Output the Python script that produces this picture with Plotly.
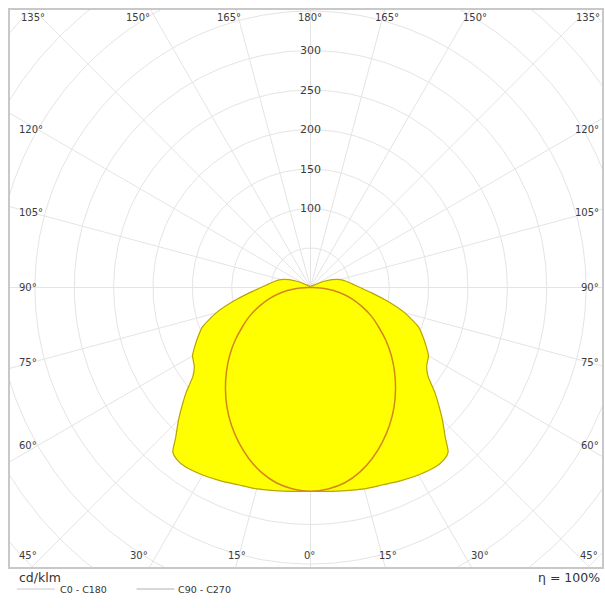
import numpy as np
import plotly.graph_objects as go

# ---- data (cd/klm) ----
gamma_c0 = [0, 5, 10, 15, 20, 25, 30, 35, 38, 40, 42, 45, 48, 50, 53, 56, 60, 63, 66, 70,
            75, 80, 85, 90, 95, 100, 105, 110, 115, 120, 130, 150, 180]
I_c0 = [258, 259, 261, 264, 266, 270, 274, 277, 276, 272, 256, 237, 218, 206, 187, 178, 173,
        165, 157, 146, 124, 99, 78, 63, 53, 46, 39, 29, 18, 9, 4, 2, 0]

gamma_c90 = [0, 5, 10, 15, 20, 25, 30, 35, 40, 45, 50, 55, 60, 65, 70, 75, 80, 85, 90, 180]
I_c90 = [258, 256, 251, 242, 230, 216, 201, 185, 168, 151, 134, 117, 100, 85, 69, 54, 38, 21, 3, 0]

ring_values = [50, 100, 150, 200, 250, 300, 350, 400, 450, 500]
ring_labels = [100, 150, 200, 250, 300]
spoke_angles = list(range(0, 360, 15))

legend_names = ["C0 - C180", "C90 - C270"]
unit_text = "cd/klm"
eta_text = "η = 100%"

# ---- layout geometry (pixels) ----
W, H = 605, 608
L, R, T, B = 10, 604, 10, 567
CX, CY = 311.5, 287.5
S = 0.79  # px per cd/klm

xr = [-(CX - L) / S, (R - CX) / S]
yr = [-(B - CY) / S, (CY - T) / S]


def curve_xy(g, I):
    g = np.radians(np.array(g, float))
    I = np.array(I, float)
    xr_ = I * np.sin(g)
    yr_ = -I * np.cos(g)
    x = np.concatenate([xr_, -xr_[::-1]])
    y = np.concatenate([yr_, yr_[::-1]])
    return x, y


def px(xp):
    return (xp - L) / (R - L)


def py(yp):
    return (B - yp) / (B - T)


fig = go.Figure()

grid = "#E4E4E4"
# rings
t = np.linspace(0, 2 * np.pi, 361)
gx, gy = [], []
for r in ring_values:
    gx += list(r * np.cos(t)) + [None]
    gy += list(r * np.sin(t)) + [None]
fig.add_trace(go.Scatter(x=gx, y=gy, mode="lines", line=dict(color=grid, width=1),
                         hoverinfo="skip", showlegend=False))
# spokes
sx, sy = [], []
for a in spoke_angles:
    ar = np.radians(a)
    sx += [0, 800 * np.sin(ar), None]
    sy += [0, -800 * np.cos(ar), None]
fig.add_trace(go.Scatter(x=sx, y=sy, mode="lines", line=dict(color=grid, width=1),
                         hoverinfo="skip", showlegend=False))

# C0-C180
x0, y0 = curve_xy(gamma_c0, I_c0)
fig.add_trace(go.Scatter(x=x0, y=y0, mode="lines", fill="toself", fillcolor="#FFFF00",
                         line=dict(color="#B9A400", width=1.2, shape="spline", smoothing=0.6),
                         name=legend_names[0], showlegend=False))
# C90-C270
x9, y9 = curve_xy(gamma_c90, I_c90)
fig.add_trace(go.Scatter(x=x9, y=y9, mode="lines", fill="toself", fillcolor="#FFFF00",
                         line=dict(color="#D4861C", width=1.5, shape="spline", smoothing=0.8),
                         name=legend_names[1], showlegend=False))

font = "DejaVu Sans"
tc = "#3c3c3c"
ann = []
for v in ring_labels:
    ann.append(dict(x=0, y=v, xref="x", yref="y", text=str(v), showarrow=False,
                    font=dict(family=font, size=11, color=tc), xanchor="center", yanchor="middle"))

top = [("135°", 33), ("150°", 138), ("165°", 230), ("180°", 311), ("165°", 388), ("150°", 477), ("135°", 590)]
for s, xc in top:
    ann.append(dict(x=px(xc), y=py(17), xref="paper", yref="paper", text=s, showarrow=False,
                    font=dict(family=font, size=10, color=tc), xanchor="center", yanchor="middle"))
bot = [("45°", 28), ("30°", 139), ("15°", 238), ("0°", 311), ("15°", 389), ("30°", 482), ("45°", 591)]
for s, xc in bot:
    ann.append(dict(x=px(xc), y=py(555), xref="paper", yref="paper", text=s, showarrow=False,
                    font=dict(family=font, size=10, color=tc), xanchor="center", yanchor="middle"))
side = [("120°", 129), ("105°", 213), ("90°", 287), ("75°", 362), ("60°", 445)]
for s, yc in side:
    ann.append(dict(x=px(17), y=py(yc), xref="paper", yref="paper", text=s, showarrow=False,
                    font=dict(family=font, size=10, color=tc), xanchor="left", yanchor="middle"))
    ann.append(dict(x=px(603), y=py(yc), xref="paper", yref="paper", text=s, showarrow=False,
                    font=dict(family=font, size=10, color=tc), xanchor="right", yanchor="middle"))

ann.append(dict(x=px(17), y=py(577), xref="paper", yref="paper", text=unit_text, showarrow=False,
                font=dict(family=font, size=12.5, color="#333"), xanchor="left", yanchor="middle"))
ann.append(dict(x=px(604), y=py(577), xref="paper", yref="paper", text=eta_text, showarrow=False,
                font=dict(family=font, size=12.5, color="#333"), xanchor="right", yanchor="middle"))
ann.append(dict(x=px(58), y=py(589), xref="paper", yref="paper", text=legend_names[0], showarrow=False,
                font=dict(family=font, size=9.5, color="#333"), xanchor="left", yanchor="middle"))
ann.append(dict(x=px(177), y=py(589), xref="paper", yref="paper", text=legend_names[1], showarrow=False,
                font=dict(family=font, size=9.5, color="#333"), xanchor="left", yanchor="middle"))

shapes = [
    dict(type="line", xref="paper", yref="paper", x0=px(17), x1=px(55), y0=py(589), y1=py(589),
         line=dict(color="#C4C8CC", width=1)),
    dict(type="line", xref="paper", yref="paper", x0=px(137), x1=px(175), y0=py(589), y1=py(589),
         line=dict(color="#B0B0B0", width=1)),
]

ax = dict(showgrid=False, zeroline=False, showticklabels=False, ticks="",
          showline=True, mirror=True, linecolor="#C8C8C8", linewidth=2, fixedrange=True)
fig.update_layout(
    width=W, height=H,
    margin=dict(l=L, r=W - R, t=T, b=H - B),
    paper_bgcolor="white", plot_bgcolor="white",
    xaxis=dict(range=xr, **ax),
    yaxis=dict(range=yr, **ax),
    annotations=ann, shapes=shapes, showlegend=False,
)
fig.write_html("out.html", config={"displayModeBar": False},
               post_script="document.body.style.margin='0px';document.body.style.overflow='hidden';")
